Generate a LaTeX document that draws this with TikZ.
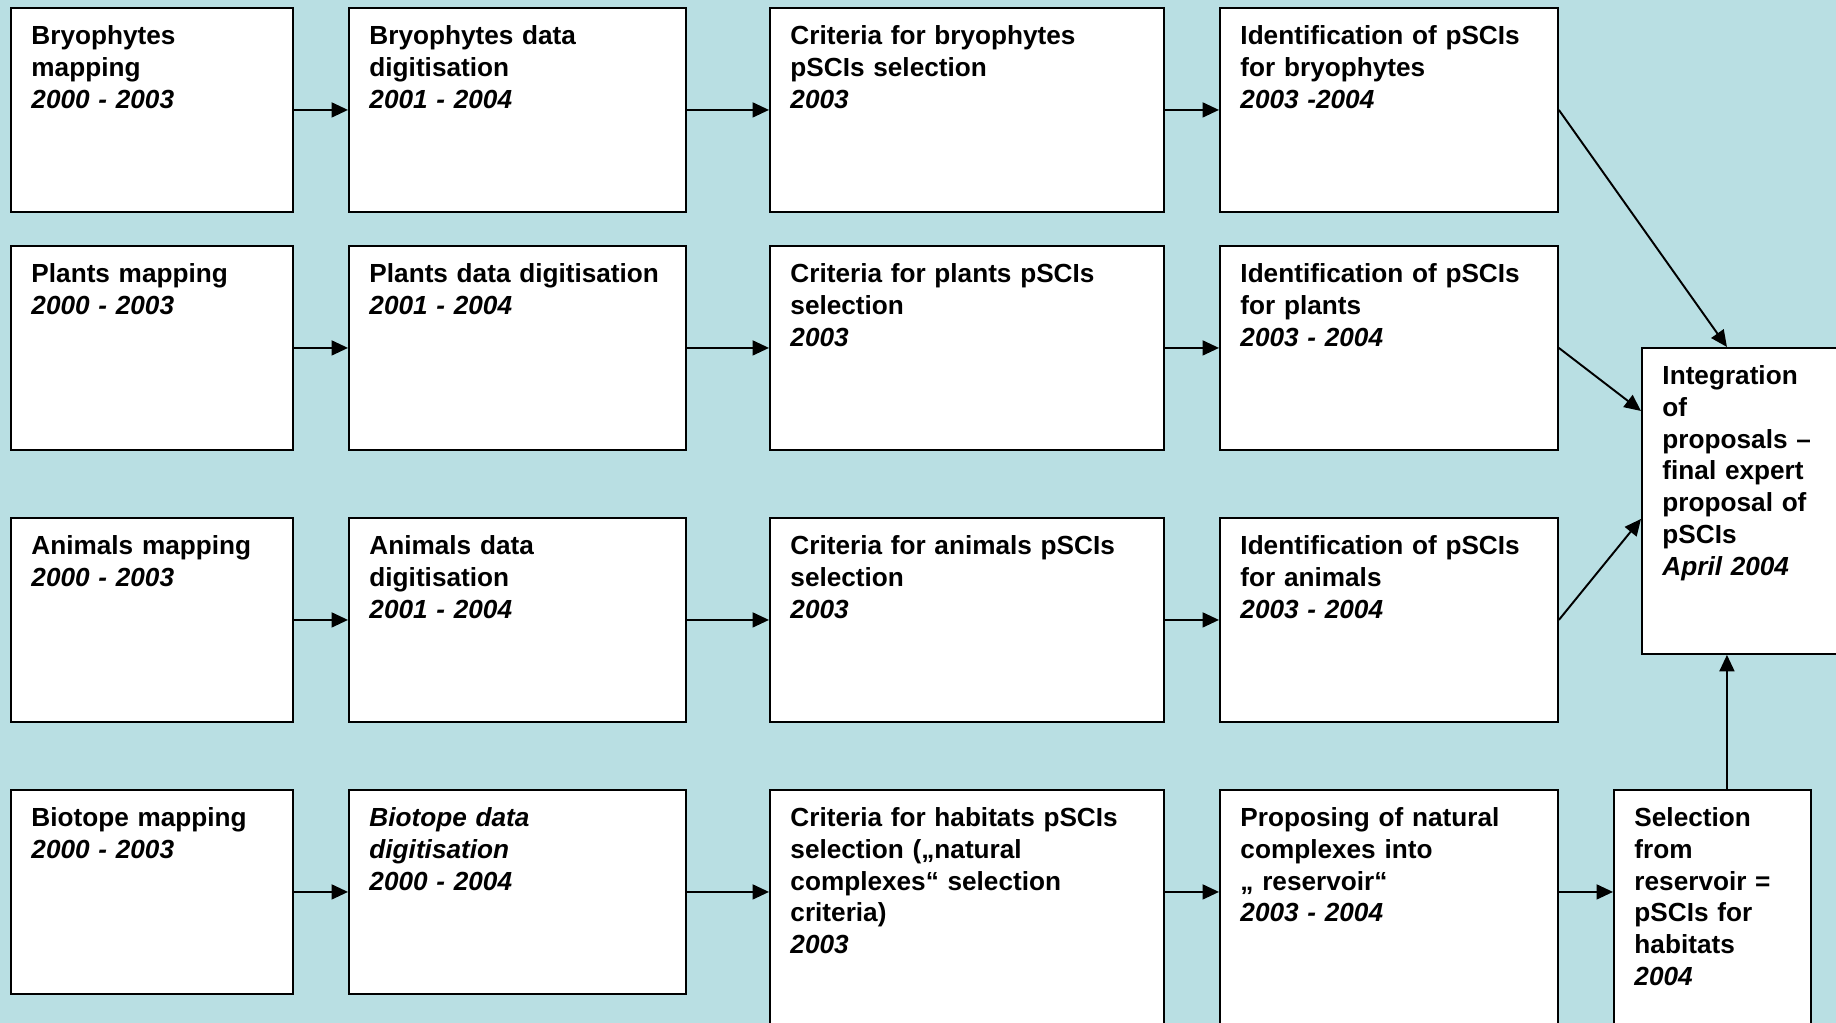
\documentclass[tikz,border=0pt]{standalone}
\usepackage{fontspec}
\setmainfont{Liberation Sans}
\usepackage{tikz}
\usetikzlibrary{arrows.meta,calc}
\definecolor{sheet}{RGB}{185,223,227}
\tikzset{
    x=0.02cm,
    y=-0.02cm,
    stage/.style 2 args = {
        draw,
        fill=white,
        shape=rectangle,
        anchor=north west,
        align=left,
        inner xsep=0.41cm,
        inner ysep=0pt,
        text width=#1,
        text height=0.73cm,
        text depth=#2,
        font=\fontsize{14.9}{18.1}\selectfont\bfseries
    },
    >={Triangle[length=0.33cm,width=0.3cm]},
}
\begin{document}
\begin{tikzpicture}[line width=1.1pt]
                \clip (0,0) rectangle (1836,1023);
                \fill[sheet] (0,0) rectangle (1836,1023);

                % bryophytes
                \node[stage={4.82cm}{3.35cm}] (bryomap) at (10,7) {Bryophytes\\mapping\\\textit{2000 - 2003}};
                \node[stage={5.92cm}{3.35cm}] (bryodig) at (348,7) {Bryophytes data\\digitisation\\\textit{2001 - 2004}};
                \node[stage={7.06cm}{3.35cm}] (bryocrit) at (769,7) {Criteria for bryophytes\\pSCIs selection\\\textit{2003}};
                \node[stage={5.94cm}{3.35cm}] (bryoid) at (1219,7) {Identification of pSCIs\\for bryophytes\\\textit{2003 -2004}};

                % plants
                \node[stage={4.82cm}{3.35cm}] (plantmap) at (10,245) {Plants mapping\\\textit{2000 - 2003}};
                \node[stage={5.92cm}{3.35cm}] (plantdig) at (348,245) {Plants data digitisation\\\textit{2001 - 2004}};
                \node[stage={7.06cm}{3.35cm}] (plantcrit) at (769,245) {Criteria for plants pSCIs\\selection\\\textit{2003}};
                \node[stage={5.94cm}{3.35cm}] (plantid) at (1219,245) {Identification of pSCIs\\for plants\\\textit{2003 - 2004}};

                % animals
                \node[stage={4.82cm}{3.35cm}] (animap) at (10,517) {Animals mapping\\\textit{2000 - 2003}};
                \node[stage={5.92cm}{3.35cm}] (anidig) at (348,517) {Animals data\\digitisation\\\textit{2001 - 2004}};
                \node[stage={7.06cm}{3.35cm}] (anicrit) at (769,517) {Criteria for animals pSCIs\\selection\\\textit{2003}};
                \node[stage={5.94cm}{3.35cm}] (aniid) at (1219,517) {Identification of pSCIs\\for animals\\\textit{2003 - 2004}};

                % biotopes
                \node[stage={4.82cm}{3.35cm}] (biomap) at (10,789) {Biotope mapping\\\textit{2000 - 2003}};
                \node[stage={5.92cm}{3.35cm}] (biodig) at (348,789) {\itshape Biotope data\\digitisation\\2000 - 2004};
                \node[stage={7.06cm}{4.49cm}] (habcrit) at (769,789) {Criteria for habitats pSCIs\\selection („natural\\complexes“ selection\\criteria)\\\textit{2003}};
                \node[stage={5.94cm}{4.49cm}] (reservoir) at (1219,789) {Proposing of natural\\complexes into\\„ reservoir“\\\textit{2003 - 2004}};
                \node[stage={3.12cm}{4.49cm}] (habsel) at (1613,789) {Selection\\from\\reservoir =\\pSCIs for\\habitats\\\textit{2004}};

                \node[stage={3.96cm}{5.39cm}] (integ) at (1641,347) {Integration\\of\\proposals –\\final expert\\proposal of\\pSCIs\\\textit{April 2004}};

                \coordinate (feed) at ([xshift=0.29cm]habsel.north);

                \path[draw, ->] (bryomap) -- (bryodig);
                \path[draw, ->] (bryodig) -- (bryocrit);
                \path[draw, ->] (bryocrit) -- (bryoid);
                \path[draw, ->] (plantmap) -- (plantdig);
                \path[draw, ->] (plantdig) -- (plantcrit);
                \path[draw, ->] (plantcrit) -- (plantid);
                \path[draw, ->] (animap) -- (anidig);
                \path[draw, ->] (anidig) -- (anicrit);
                \path[draw, ->] (anicrit) -- (aniid);
                \path[draw, ->] (biomap) -- (biodig);
                \path[draw, ->] (biodig) -- (biodig -| habcrit.west);
                \path[draw, ->] (habcrit.east |- biodig) -- (reservoir.west |- biodig);
                \path[draw, ->] (reservoir.east |- biodig) -- (habsel.west |- biodig);

                \path[draw, ->] (bryoid.east) -- (feed |- integ.north);
                \path[draw, ->] (plantid.east) -- ([yshift=-1.28cm]integ.north west);
                \path[draw, ->] (aniid.east) -- ([yshift=-3.44cm]integ.north west);
                \path[draw, ->] (feed) -- (feed |- integ.south);
\end{tikzpicture}
\end{document}
